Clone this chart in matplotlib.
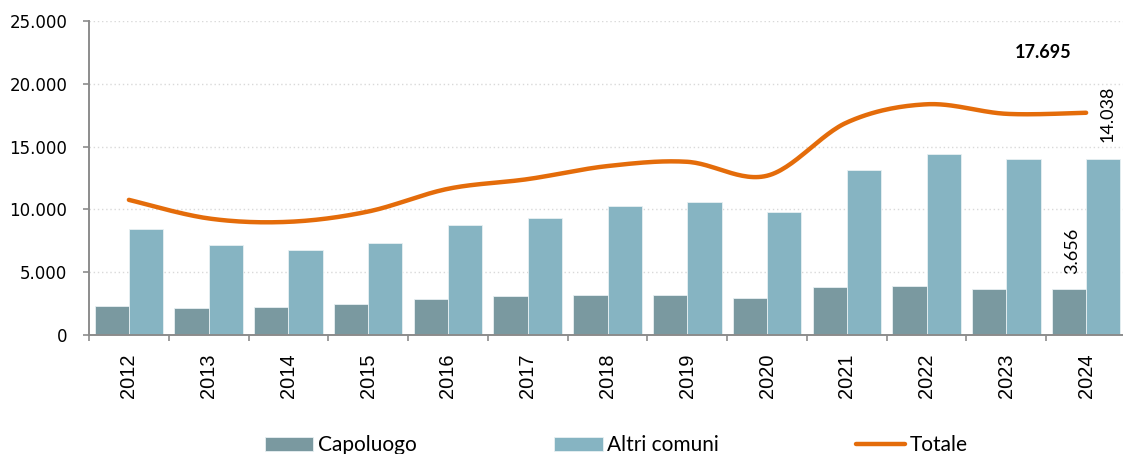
import matplotlib
matplotlib.use("Agg")
import matplotlib.pyplot as plt
import numpy as np
from matplotlib.ticker import FuncFormatter, MultipleLocator

anni = ["2012", "2013", "2014", "2015", "2016", "2017", "2018",
        "2019", "2020", "2021", "2022", "2023", "2024"]
capoluogo = [2310, 2120, 2250, 2490, 2890, 3080, 3210,
             3210, 2920, 3820, 3920, 3630, 3656]
altri_comuni = [8450, 7160, 6760, 7340, 8750, 9330, 10240,
                10580, 9760, 13100, 14450, 13980, 14038]
totale = [c + a for c, a in zip(capoluogo, altri_comuni)]
totale[-1] = 17695

COL_CAP = "#7A99A0"
COL_ALTRI = "#86B4C2"
COL_TOT = "#E46C0A"
LAB = ["Lato", "DejaVu Sans"]


def smooth(xs, ys, n=30):
    # spline tipo "linea smussata" di Excel (Catmull-Rom)
    p = np.column_stack([xs, ys]).astype(float)
    p = np.vstack([p[0], p, p[-1]])
    out = []
    t = np.linspace(0, 1, n)[:, None]
    for i in range(1, len(p) - 2):
        p0, p1, p2, p3 = p[i - 1], p[i], p[i + 1], p[i + 2]
        seg = 0.5 * ((2 * p1) + (-p0 + p2) * t + (2 * p0 - 5 * p1 + 4 * p2 - p3) * t ** 2
                     + (-p0 + 3 * p1 - 3 * p2 + p3) * t ** 3)
        out.append(seg)
    out = np.vstack(out)
    return out[:, 0], out[:, 1]


fig = plt.figure(figsize=(11.23, 4.54), dpi=100)
ax = fig.add_axes([89 / 1123, 119 / 454, 1037 / 1123, 314 / 454])

x = np.arange(len(anni))
w = 0.43
b1 = ax.bar(x - w / 2, capoluogo, w, color=COL_CAP, edgecolor="#E8F0F2", linewidth=0.6,
            label="Capoluogo", zorder=2)
b2 = ax.bar(x + w / 2, altri_comuni, w, color=COL_ALTRI, edgecolor="#E8F0F2", linewidth=0.6,
            label="Altri comuni", zorder=2)
sx, sy = smooth(x, totale)
ln, = ax.plot(sx, sy, color=COL_TOT, lw=3.2, solid_capstyle="round", label="Totale", zorder=3)

ax.set_xlim(-0.5, len(anni) - 0.5)
ax.set_ylim(0, 25000)
ax.yaxis.set_major_locator(MultipleLocator(5000))
ax.yaxis.set_major_formatter(FuncFormatter(lambda v, p: f"{int(v):,}".replace(",", ".")))
ax.grid(axis="y", color="#D9D9D9", linestyle=(0, (1, 2)), linewidth=1, zorder=0)
ax.set_axisbelow(True)

ax.set_xticks(x)
ax.set_xticklabels(anni, rotation=90, fontsize=14.4, family="Liberation Sans")
ax.set_xticks(np.arange(-0.5, len(anni)), minor=True)
ax.tick_params(axis="x", which="major", length=0, pad=13)
ax.tick_params(axis="x", which="minor", length=4, width=1.2, color="#8C8C8C", direction="out")
ax.tick_params(axis="y", length=4.5, width=1.2, color="#8C8C8C", labelsize=12, pad=11)

for s in ["top", "right"]:
    ax.spines[s].set_visible(False)
for s in ["left", "bottom"]:
    ax.spines[s].set_color("#8C8C8C")
    ax.spines[s].set_linewidth(1.4)


def fmt(v):
    return f"{v:,}".replace(",", ".")


i = len(anni) - 1
ax.annotate(fmt(totale[i]), (x[i], totale[i]), xytext=(-43, 60), textcoords="offset pixels",
            ha="center", va="center", fontsize=13, fontweight="bold", family=LAB)
ax.annotate(fmt(altri_comuni[i]), (x[i] + w / 2, altri_comuni[i]), xytext=(4, 17),
            textcoords="offset pixels", ha="center", va="bottom", rotation=90,
            fontsize=13, family=LAB)
ax.annotate(fmt(capoluogo[i]), (x[i] - w / 2, capoluogo[i]), xytext=(3, 15),
            textcoords="offset pixels", ha="center", va="bottom", rotation=90,
            fontsize=13, family=LAB)

fig.legend([b1, b2, ln], ["Capoluogo", "Altri comuni", "Totale"], loc="center",
           bbox_to_anchor=(0.5485, 0.02), ncol=3, frameon=False,
           prop={"family": LAB, "size": 15}, handlelength=2.35, handleheight=0.65,
           handletextpad=0.2, columnspacing=6.6)

fig.savefig("out.png", dpi=100)
